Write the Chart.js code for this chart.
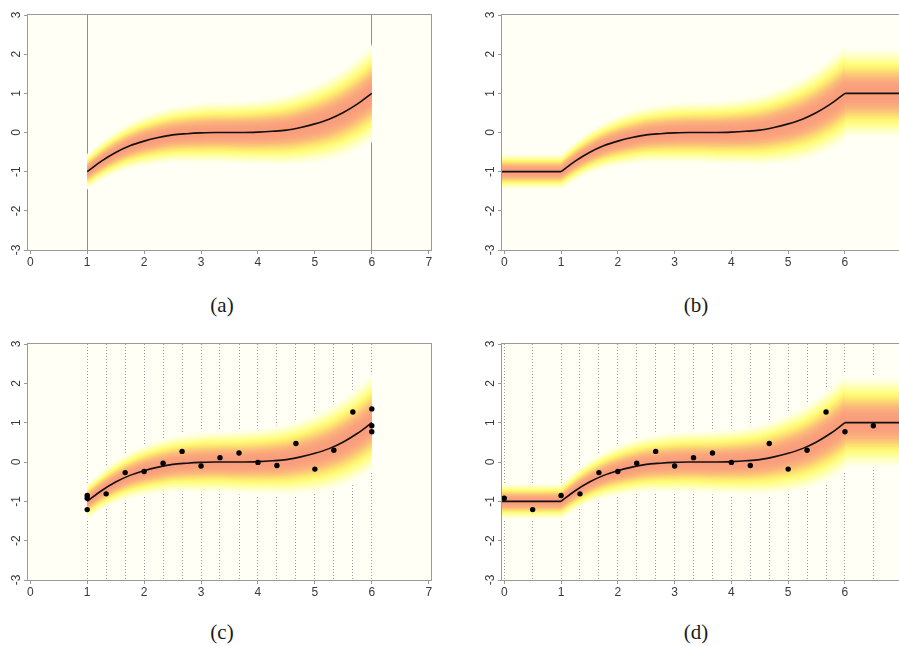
<!DOCTYPE html>
<html>
<head>
<meta charset="utf-8">
<script src="https://cdn.jsdelivr.net/npm/chart.js@4.4.1/dist/chart.umd.min.js"></script>
<style>
  html, body { margin: 0; padding: 0; background: #fff; }
  body { width: 899px; height: 646px; position: relative; overflow: hidden; }
  canvas { position: absolute; }
  .tag {
    position: absolute;
    font-family: 'Liberation Serif', 'DejaVu Serif', serif;
    font-size: 21px;
    color: #1a1a1a;
    transform: translate(-50%, -50%);
  }
</style>
</head>
<body>
<canvas id="panelA" width="450" height="270" style="left:0;top:0"></canvas>
<canvas id="panelB" width="449" height="270" style="left:474px;top:0"></canvas>
<canvas id="panelC" width="450" height="271" style="left:0;top:329px"></canvas>
<canvas id="panelD" width="449" height="271" style="left:474px;top:329px"></canvas>
<div class="tag" style="left:222px;top:305px">(a)</div>
<div class="tag" style="left:696px;top:305px">(b)</div>
<div class="tag" style="left:222px;top:632px">(c)</div>
<div class="tag" style="left:696px;top:632px">(d)</div>
<script>
const xTicks = [0, 1, 2, 3, 4, 5, 6, 7];
const yTicks = [-3, -2, -1, 0, 1, 2, 3];

// fitted curve on [1, 6]
const curveX = [1, 1.25, 1.5, 1.75, 2, 2.25, 2.5, 2.75, 3, 3.25, 3.5, 3.75, 4, 4.25, 4.5, 4.75, 5, 5.25, 5.5, 5.75, 6];
const curveY = [-1, -0.73, -0.51, -0.34, -0.22, -0.13, -0.06, -0.03, -0.01, 0, 0, 0, 0.01, 0.03, 0.06, 0.13, 0.22, 0.34, 0.51, 0.73, 1];
// half-width of the shaded band, measured to where it fades out
const curveSpread = [0.46, 0.51, 0.56, 0.61, 0.66, 0.7, 0.73, 0.76, 0.79, 0.8, 0.81, 0.83, 0.85, 0.88, 0.92, 0.97, 1.03, 1.09, 1.15, 1.21, 1.26];

// constant continuation outside [1, 6]
const leftX = [-0.3, 1];
const leftY = [-1, -1];
const leftSpread = [0.46, 0.46];
const rightX = [6, 7.3];
const rightY = [1, 1];
const rightSpread = [1.16, 1.16];

// observations
const obsCX = [1, 1, 1, 1.333, 1.667, 2, 2.333, 2.667, 3, 3.333, 3.667, 4, 4.333, 4.667, 5, 5.333, 5.667, 6, 6, 6];
const obsCY = [-0.85, -0.92, -1.21, -0.81, -0.27, -0.24, -0.03, 0.27, -0.1, 0.11, 0.23, -0.01, -0.09, 0.47, -0.18, 0.3, 1.27, 1.35, 0.92, 0.77];
const obsDX = [0, 0.5, 1, 1.333, 1.667, 2, 2.333, 2.667, 3, 3.333, 3.667, 4, 4.333, 4.667, 5, 5.333, 5.667, 6, 6.5];
const obsDY = [-0.92, -1.21, -0.85, -0.81, -0.27, -0.24, -0.03, 0.27, -0.1, 0.11, 0.23, -0.01, -0.09, 0.47, -0.18, 0.3, 1.27, 0.77, 0.92];

// vertical marker lines
const boundsA = [1, 6];
const inputsC = [1, 1.333, 1.667, 2, 2.333, 2.667, 3, 3.333, 3.667, 4, 4.333, 4.667, 5, 5.333, 5.667, 6];
const inputsD = [0, 0.5, 1, 1.333, 1.667, 2, 2.333, 2.667, 3, 3.333, 3.667, 4, 4.333, 4.667, 5, 5.333, 5.667, 6, 6.5];

const axisGray = '#9a9a9a';
const labelColor = '#3a3a3a';
const plotBg = '#fffff6';
const LEVELS = 28;

// colour ramp from the centre of the band (0) out to the background (1)
const heatStops = [
  [0.0, [249, 155, 122]],
  [0.2, [250, 162, 126]],
  [0.35, [251, 185, 122]],
  [0.48, [253, 220, 115]],
  [0.58, [255, 245, 112]],
  [0.68, [255, 255, 140]],
  [0.8, [255, 255, 190]],
  [0.92, [255, 255, 230]],
  [1.0, [255, 255, 246]],
];

function heat(t) {
  for (let i = 1; i < heatStops.length; i++) {
    const [t1, c1] = heatStops[i];
    const [t0, c0] = heatStops[i - 1];
    if (t <= t1) {
      const f = (t - t0) / (t1 - t0);
      const c = c0.map((v, j) => Math.round(v + (c1[j] - v) * f));
      return `rgb(${c[0]},${c[1]},${c[2]})`;
    }
  }
  return plotBg;
}

Chart.defaults.font.family = "'Liberation Sans', Arial, sans-serif";
Chart.defaults.font.size = 11;

const bandStyle = {
  borderWidth: 0,
  borderColor: 'transparent',
  pointRadius: 0,
  cubicInterpolationMode: 'monotone',
};

// nested fills between upper/lower edges, widest drawn first
function bandSets(xs, ys, spread, startIndex) {
  const sets = [];
  for (let k = 1; k <= LEVELS; k++) {
    const t = k / LEVELS;
    const upperIndex = startIndex + sets.length;
    sets.push({
      ...bandStyle,
      data: xs.map((x, i) => ({ x, y: ys[i] + t * spread[i] })),
      fill: { target: upperIndex + 1 },
      backgroundColor: heat((k - 0.5) / LEVELS),
    });
    sets.push({
      ...bandStyle,
      data: xs.map((x, i) => ({ x, y: ys[i] - t * spread[i] })),
      fill: false,
    });
  }
  return sets;
}

function lineSet(xs, ys) {
  return {
    data: xs.map((x, i) => ({ x, y: ys[i] })),
    borderColor: '#111',
    borderWidth: 1.6,
    pointRadius: 0,
    fill: false,
    cubicInterpolationMode: 'monotone',
  };
}

function pointSet(xs, ys) {
  return {
    data: xs.map((x, i) => ({ x, y: ys[i] })),
    showLine: false,
    pointRadius: 2.7,
    pointBackgroundColor: '#000',
    pointBorderWidth: 0,
    fill: false,
  };
}

const plotFrame = {
  id: 'plotFrame',
  beforeDraw(chart) {
    const { ctx, chartArea: a } = chart;
    ctx.save();
    ctx.fillStyle = plotBg;
    ctx.fillRect(a.left, a.top, a.right - a.left, a.bottom - a.top);
    ctx.restore();
  },
  afterDraw(chart) {
    const { ctx, chartArea: a } = chart;
    ctx.save();
    ctx.strokeStyle = axisGray;
    ctx.lineWidth = 1;
    ctx.strokeRect(Math.round(a.left) - 0.5, Math.round(a.top) - 0.5,
      Math.round(a.right - a.left) + 1, Math.round(a.bottom - a.top) + 1);
    ctx.restore();
  },
};

function makePanel(id, segments, obs, guides, dashed) {
  const datasets = [];
  if (obs) datasets.push(pointSet(obs[0], obs[1]));
  segments.forEach(s => datasets.push(lineSet(s[0], s[1])));
  segments.forEach(s => {
    datasets.push(...bandSets(s[0], s[1], s[2], datasets.length));
  });

  return new Chart(document.getElementById(id), {
    type: 'line',
    data: { datasets },
    plugins: [plotFrame],
    options: {
      responsive: false,
      animation: false,
      events: [],
      layout: { padding: { top: 15, right: 19, left: 0, bottom: 0 } },
      plugins: {
        legend: { display: false },
        tooltip: { enabled: false },
        filler: { propagate: false },
      },
      scales: {
        x: {
          type: 'linear',
          min: -0.04,
          max: 7.04,
          afterBuildTicks: s => { s.ticks = xTicks.map(v => ({ value: v })); },
          afterFit: s => { s.height = 20; },
          grid: { drawOnChartArea: false, drawTicks: true, tickLength: 4, color: axisGray },
          border: { display: false },
          ticks: { color: labelColor, padding: 1, maxRotation: 0, autoSkip: false, font: { size: 12 } },
        },
        y: {
          type: 'linear',
          min: -3,
          max: 3,
          afterBuildTicks: s => { s.ticks = yTicks.map(v => ({ value: v })); },
          afterFit: s => { s.width = 28; },
          grid: { drawOnChartArea: false, drawTicks: true, tickLength: 4, color: axisGray },
          border: { display: false },
          ticks: { color: labelColor, padding: 2, minRotation: 90, maxRotation: 90, crossAlign: 'center', font: { size: 12 } },
        },
        guides: {
          type: 'linear',
          axis: 'x',
          position: 'top',
          min: -0.04,
          max: 7.04,
          z: 1,
          afterBuildTicks: s => { s.ticks = guides.map(v => ({ value: v })); },
          afterFit: s => { s.height = 0; },
          ticks: { display: false },
          grid: { drawTicks: false, color: dashed ? '#9c9c9c' : '#8e8e8e', lineWidth: 1 },
          border: { display: false, dash: dashed ? [1, 2] : [] },
        },
      },
    },
  });
}

const midSeg = [curveX, curveY, curveSpread];
const leftSeg = [leftX, leftY, leftSpread];
const rightSeg = [rightX, rightY, rightSpread];

makePanel('panelA', [midSeg], null, boundsA, false);
makePanel('panelB', [leftSeg, midSeg, rightSeg], null, [], false);
makePanel('panelC', [midSeg], [obsCX, obsCY], inputsC, true);
makePanel('panelD', [leftSeg, midSeg, rightSeg], [obsDX, obsDY], inputsD, true);
</script>
</body>
</html>
